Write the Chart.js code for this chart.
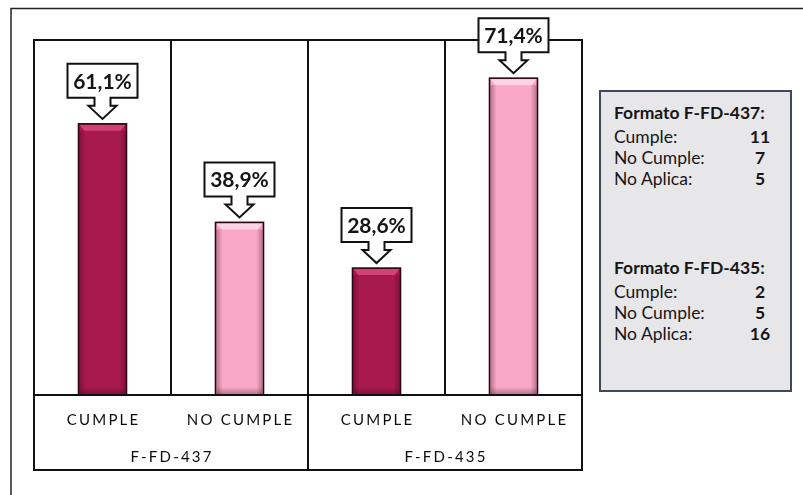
<!DOCTYPE html>
<html>
<head>
<meta charset="utf-8">
<script src="https://cdn.jsdelivr.net/npm/chart.js@4.4.1/dist/chart.umd.min.js"></script>
<style>
  html, body { margin: 0; padding: 0; background: #ffffff; }
  #wrap { position: relative; width: 803px; height: 495px; overflow: hidden; }
  #chart { position: absolute; left: 0; top: 0; }
  #summary {
    position: absolute; left: 599px; top: 90px; width: 189px; height: 298px;
    background: #e7e7ea; border: 2px solid #3e4a5a;
    font-family: Lato, "Open Sans", sans-serif; color: #161616; font-size: 17.5px;
  }
  #summary .row { position: absolute; left: 13px; width: 176px; height: 22px; line-height: 22px; white-space: nowrap; }
  #summary .head { font-weight: bold; }
  #summary .val { position: absolute; left: 133px; width: 26px; text-align: center; font-weight: bold; }
</style>
</head>
<body>
<div id="wrap">
  <canvas id="chart" width="803" height="495"></canvas>
  <div id="summary"></div>
</div>
<script>
// Bars: share of documents that comply / do not comply, per form
const categories = ['CUMPLE', 'NO CUMPLE', 'CUMPLE', 'NO CUMPLE'];
const groups = ['F-FD-437', 'F-FD-435'];
const percentages = [61.1, 38.9, 28.6, 71.4];
const barColors = ['#a8194c', '#f8a7c7', '#a8194c', '#f8a7c7'];

// Counts shown in the side box
const summaryTitles = ['Formato F-FD-437:', 'Formato F-FD-435:'];
const summaryLabels = ['Cumple:', 'No Cumple:', 'No Aplica:'];
const counts437 = [11, 7, 5];
const counts435 = [2, 5, 16];

// Side box (HTML text)
(function buildSummary() {
  const box = document.getElementById('summary');
  const blocks = [
    { title: summaryTitles[0], values: counts437, tops: [10, 34, 55, 76] },
    { title: summaryTitles[1], values: counts435, tops: [165, 189, 210, 231] }
  ];
  blocks.forEach(b => {
    const h = document.createElement('div');
    h.className = 'row head';
    h.style.top = b.tops[0] + 'px';
    h.textContent = b.title;
    box.appendChild(h);
    summaryLabels.forEach((lab, i) => {
      const r = document.createElement('div');
      r.className = 'row';
      r.style.top = b.tops[i + 1] + 'px';
      r.textContent = lab;
      const v = document.createElement('span');
      v.className = 'val';
      v.textContent = b.values[i];
      r.appendChild(v);
      box.appendChild(r);
    });
  });
})();

const fmt = v => v.toFixed(1).replace('.', ',') + '%';

// Table-like frame, two-level category labels, bevel shading and callouts
const framePlugin = {
  id: 'frame',
  afterDatasetsDraw(chart) {
    const ctx = chart.ctx;
    const meta = chart.getDatasetMeta(0);
    ctx.save();
    meta.data.forEach((bar, i) => {
      const p = bar.getProps(['x', 'y', 'base', 'width'], true);
      const l = p.x - p.width / 2, r = p.x + p.width / 2, t = p.y, b = p.base;
      // top highlight
      ctx.fillStyle = i % 2 === 0 ? 'rgba(255,120,170,0.45)' : 'rgba(255,225,238,0.75)';
      ctx.beginPath();
      ctx.moveTo(l + 1, t + 1); ctx.lineTo(r - 1, t + 1); ctx.lineTo(r - 6, t + 7); ctx.lineTo(l + 6, t + 7);
      ctx.closePath(); ctx.fill();
      // side and bottom shading
      let g = ctx.createLinearGradient(l, 0, l + 7, 0);
      g.addColorStop(0, 'rgba(40,0,15,0.35)'); g.addColorStop(1, 'rgba(40,0,15,0)');
      ctx.fillStyle = g; ctx.fillRect(l + 1, t + 7, 7, b - t - 8);
      g = ctx.createLinearGradient(r, 0, r - 7, 0);
      g.addColorStop(0, 'rgba(40,0,15,0.35)'); g.addColorStop(1, 'rgba(40,0,15,0)');
      ctx.fillStyle = g; ctx.fillRect(r - 8, t + 7, 7, b - t - 8);
      g = ctx.createLinearGradient(0, b, 0, b - 8);
      g.addColorStop(0, 'rgba(40,0,15,0.35)'); g.addColorStop(1, 'rgba(40,0,15,0)');
      ctx.fillStyle = g; ctx.fillRect(l + 1, b - 9, r - l - 2, 8);
      // outline
      ctx.strokeStyle = '#2a0612'; ctx.lineWidth = 1.6;
      ctx.strokeRect(l, t, r - l, b - t);
    });
    ctx.restore();
  },
  afterDraw(chart) {
    const ctx = chart.ctx;
    const area = chart.chartArea;
    const xs = chart.scales.x;
    const step = (area.right - area.left) / categories.length;
    const rowBottom = area.bottom + 75;
    ctx.save();
    // outer page frame
    ctx.strokeStyle = '#222'; ctx.lineWidth = 1.5;
    ctx.beginPath(); ctx.moveTo(11, 500); ctx.lineTo(11, 8.5); ctx.lineTo(810, 8.5); ctx.stroke();
    // table frame
    ctx.strokeStyle = '#111'; ctx.lineWidth = 2;
    ctx.strokeRect(area.left, area.top, area.right - area.left, rowBottom - area.top);
    ctx.beginPath();
    ctx.moveTo(area.left, area.bottom); ctx.lineTo(area.right, area.bottom);
    for (let i = 1; i < categories.length; i++) {
      const x = Math.round(area.left + step * i);
      ctx.moveTo(x, area.top);
      ctx.lineTo(x, i === 2 ? rowBottom : area.bottom);
    }
    ctx.stroke();
    // category labels
    ctx.fillStyle = '#0c0c0c';
    ctx.textAlign = 'center'; ctx.textBaseline = 'middle';
    ctx.font = '15px Lato, "Open Sans", sans-serif';
    ctx.letterSpacing = '2.2px';
    categories.forEach((c, i) => ctx.fillText(c, xs.getPixelForValue(i) + 1.1, area.bottom + 25));
    groups.forEach((g, i) => {
      const cx = (xs.getPixelForValue(i * 2) + xs.getPixelForValue(i * 2 + 1)) / 2;
      ctx.fillText(g, cx + 1.1, area.bottom + 62);
    });
    ctx.letterSpacing = '0px';
    // value callouts
    const meta = chart.getDatasetMeta(0);
    meta.data.forEach((bar, i) => {
      const p = bar.getProps(['x', 'y'], true);
      const tip = p.y - 5, neck = tip - 13, boxB = neck - 8, boxT = boxB - 34;
      const bw = 70, hw = 14, sw = 8;
      ctx.beginPath();
      ctx.moveTo(p.x - bw / 2, boxT);
      ctx.lineTo(p.x + bw / 2, boxT);
      ctx.lineTo(p.x + bw / 2, boxB);
      ctx.lineTo(p.x + sw, boxB);
      ctx.lineTo(p.x + sw, neck);
      ctx.lineTo(p.x + hw, neck);
      ctx.lineTo(p.x, tip);
      ctx.lineTo(p.x - hw, neck);
      ctx.lineTo(p.x - sw, neck);
      ctx.lineTo(p.x - sw, boxB);
      ctx.lineTo(p.x - bw / 2, boxB);
      ctx.closePath();
      ctx.fillStyle = '#ffffff'; ctx.fill();
      ctx.strokeStyle = '#111'; ctx.lineWidth = 2; ctx.lineJoin = 'miter'; ctx.stroke();
      ctx.fillStyle = '#151515';
      ctx.font = 'bold 21px Lato, "Open Sans", sans-serif';
      ctx.fillText(fmt(percentages[i]), p.x, (boxT + boxB) / 2 + 1);
    });
    ctx.restore();
  }
};

new Chart(document.getElementById('chart'), {
  type: 'bar',
  data: {
    labels: categories,
    datasets: [{
      data: percentages,
      backgroundColor: barColors,
      borderWidth: 0,
      barPercentage: 0.35,
      categoryPercentage: 1
    }]
  },
  options: {
    responsive: false,
    animation: false,
    events: [],
    layout: { padding: { left: 34, top: 40, right: 221, bottom: 100 } },
    plugins: { legend: { display: false }, tooltip: { enabled: false } },
    scales: {
      x: { display: false },
      y: { display: false, min: 0, max: 80 }
    }
  },
  plugins: [framePlugin]
});
</script>
</body>
</html>
